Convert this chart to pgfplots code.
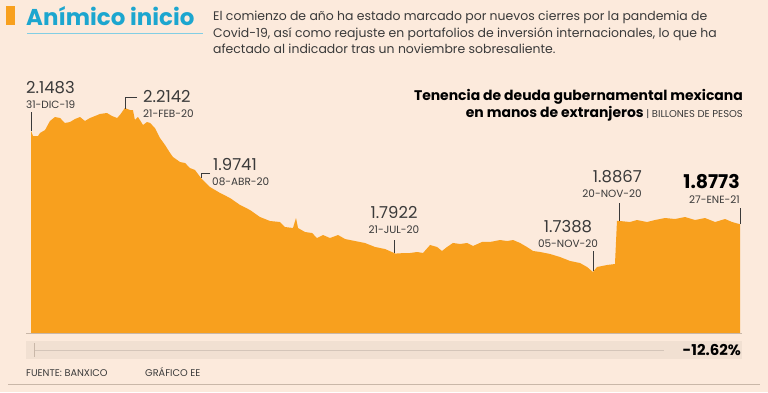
\documentclass[border=0pt]{standalone}
\usepackage{pgfplots}
\pgfplotsset{compat=1.18}
\usepackage{pgfplotstable}
\usepackage{fontspec}
\setmainfont{Poppins}
\definecolor{bg}{HTML}{FCEADC}
\definecolor{chartorange}{HTML}{F8A01E}
\definecolor{titlecyan}{HTML}{1CA6CF}
\definecolor{txt}{HTML}{3A3A3A}
\definecolor{band}{HTML}{F1E0D2}
\definecolor{rule}{HTML}{C9B7A8}

\pgfplotstableread{
day value
0 1.5620
0 2.1483
1.1 2.1330
3.9 2.1330
5.0 2.1417
7.8 2.1504
10.5 2.1765
13.3 2.1881
16.1 2.1852
18.8 2.1707
21.6 2.1736
24.4 2.1823
27.2 2.1881
29.9 2.1765
32.7 2.1852
35.5 2.1910
38.2 2.1968
42.1 2.1997
44.9 2.1910
47.7 2.1852
49.3 2.1939
52.0 2.2142
54.9 2.2084
56.5 2.2084
57.6 2.1794
59.3 2.1881
62.1 2.1649
64.3 2.1736
66.0 2.1707
68.7 2.1562
71.5 2.1272
74.3 2.1069
77.1 2.0837
78.7 2.0721
82.6 2.0576
85.4 2.0547
88.1 2.0402
90.9 2.0344
94.2 2.0113
99.2 1.9852
104.8 1.9678
110.3 1.9533
115.9 1.9330
121.4 1.9185
126.9 1.8982
132.5 1.8866
138.0 1.8837
140.8 1.8692
145.2 1.8663
146.9 1.8953
148.0 1.8663
151.9 1.8547
155.8 1.8518
158.5 1.8373
161.9 1.8460
165.7 1.8373
170.2 1.8460
174.1 1.8344
179.6 1.8286
185.1 1.8229
190.7 1.8113
196.2 1.8055
202.0 1.7922
207.3 1.7939
210.1 1.7939
214.0 1.7968
217.3 1.7939
221.2 1.8171
225.1 1.8113
227.8 1.7997
230.6 1.8113
233.9 1.8229
237.8 1.8200
241.7 1.8229
245.0 1.8142
250.0 1.8258
254.4 1.8258
260.0 1.8315
263.9 1.8286
267.2 1.8315
271.1 1.8229
274.9 1.8113
278.3 1.7997
282.2 1.7968
287.7 1.7910
293.2 1.7823
298.8 1.7707
304.3 1.7649
308.2 1.7533
311.5 1.7388
313.7 1.7533
319.3 1.7591
323.7 1.7620
324.8 1.8867
326.5 1.8866
332.0 1.8837
335.9 1.8895
341.5 1.8837
345.9 1.8895
351.4 1.8953
357.0 1.8924
362.5 1.8982
368.1 1.8895
373.6 1.8953
379.2 1.8837
384.7 1.8924
388.6 1.8837
393.0 1.8773
393.0 1.5620
}\datatable

\begin{document}
\begin{tikzpicture}
\begin{scope}[x=1bp,y=1bp]
\useasboundingbox (0,0) rectangle (768,392);
\fill[bg] (0,0) rectangle (768,392);
\end{scope}

% area chart
\begin{axis}[at={(31bp,59bp)}, anchor=south west, width=709bp, height=233bp, scale only axis,
  xmin=0, xmax=393, ymin=1.562, ymax=2.2374, hide axis, clip=false]
\addplot[draw=none, fill=chartorange] table[x=day, y=value] {\datatable};
\end{axis}

\begin{scope}[x=1bp,y=1bp]
% header
\fill[chartorange] (6,392-6) rectangle (15,392-25);
\node[anchor=base west, inner sep=0, text=titlecyan, font=\fontsize{23}{26}\selectfont\bfseries] at (26,392-25) {Anímico inicio};
\draw[titlecyan!55, line width=0.6bp] (27,392-33) -- (203,392-33);
\begin{scope}[every node/.style={anchor=base west, inner sep=0, text=txt, font=\fontsize{12.5}{14}\selectfont}]
\node at (213,392-20) {El comienzo de año ha estado marcado por nuevos cierres por la pandemia de};
\node at (213,392-37) {Covid-19, así como reajuste en portafolios de inversión internacionales, lo que ha};
\node at (213,392-53) {afectado al indicador tras un noviembre sobresaliente.};
\end{scope}

% chart title
\node[anchor=base east, inner sep=0, text=black, font=\fontsize{14}{16}\selectfont\bfseries] at (743,392-100) {Tenencia de deuda gubernamental mexicana};
\node[anchor=base east, inner sep=0, text=black] at (743,392-117) {{\fontsize{14}{16}\selectfont\bfseries en manos de extranjeros} {\fontsize{10}{12}\selectfont\color{txt} | BILLONES DE PESOS}};

% baseline and slider band
\draw[rule, line width=0.8bp] (26,392-333) -- (742,392-333);
\fill[band] (26,392-341) rectangle (742,392-359);
\draw[rule!80, line width=0.7bp] (34,392-350) -- (664,392-350);
\draw[rule, line width=0.8bp] (34,392-343) -- (34,392-357);
\node[anchor=base east, inner sep=0, text=black, font=\fontsize{15}{17}\selectfont\bfseries] at (741,392-355) {-12.62\%};

% footer
\node[anchor=base west, inner sep=0, text=txt, font=\fontsize{9.8}{11}\selectfont] at (26,392-376) {FUENTE: BANXICO};
\node[anchor=base west, inner sep=0, text=txt, font=\fontsize{9.8}{11}\selectfont] at (145,392-376) {GRÁFICO EE};
\draw[rule, line width=0.8bp] (8,392-384) -- (760,392-384);

% annotations
\begin{scope}[txt, line width=0.6bp]
\draw (31,392-112) -- (31,392-131);
\draw (137,392-97) -- (125,392-97) -- (125,392-109);
\draw (210,392-173) -- (201,392-173) -- (201,392-178);
\draw (394,392-240) -- (394,392-253);
\draw (593,392-251) -- (593,392-271);
\draw (619,392-203) -- (619,392-221);
\draw (740,392-208) -- (740,392-224);
\end{scope}
\begin{scope}[every node/.style={inner sep=0, text=txt}]
\tikzset{val/.style={font=\fontsize{16.5}{18}\selectfont}, dat/.style={font=\fontsize{10.5}{12}\selectfont}}
\node[val, anchor=base west] at (26,392-93) {2.1483};
\node[dat, anchor=base west] at (26,392-108) {31-DIC-19};
\node[val, anchor=base west] at (143,392-102) {2.2142};
\node[dat, anchor=base west] at (143,392-117) {21-FEB-20};
\node[val, anchor=base west] at (213,392-170) {1.9741};
\node[dat, anchor=base west] at (212,392-185) {08-ABR-20};
\node[val, anchor=base] at (394,392-218) {1.7922};
\node[dat, anchor=base] at (394,392-233) {21-JUL-20};
\node[val, anchor=base] at (568,392-232) {1.7388};
\node[dat, anchor=base] at (568,392-247) {05-NOV-20};
\node[val, anchor=base east] at (642,392-182) {1.8867};
\node[dat, anchor=base east] at (642,392-197) {20-NOV-20};
\node[anchor=base east, text=black, font=\fontsize{19}{21}\selectfont\bfseries] at (740,392-188) {1.8773};
\node[dat, anchor=base east] at (740,392-203) {27-ENE-21};
\end{scope}
\end{scope}
\end{tikzpicture}
\end{document}
